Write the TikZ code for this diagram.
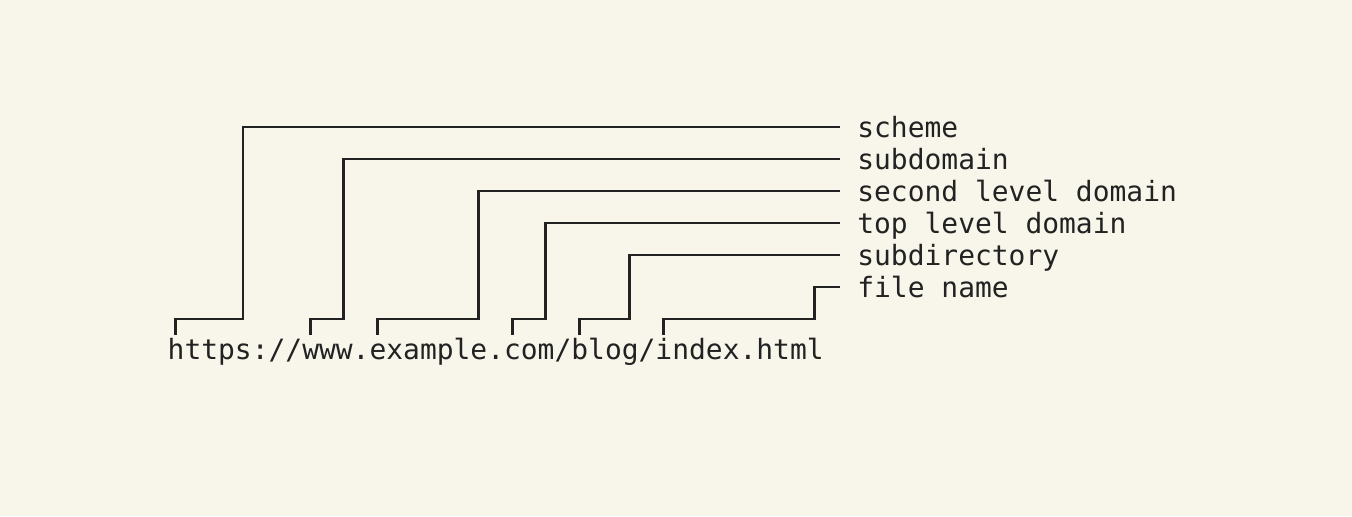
\documentclass[tikz,border=0pt]{standalone}
\usepackage{fontspec}
\setmonofont{DejaVu Sans Mono}
\definecolor{bg}{RGB}{248,246,234}
\definecolor{ink}{RGB}{34,34,34}
\begin{document}
\begin{tikzpicture}[
  conn/.style={draw=ink, line width=1.45pt, line join=miter},
  lab/.style={inner sep=0pt, anchor=west, text=ink, text height=12pt, text depth=1.5pt,
    font=\ttfamily\fontsize{13.97pt}{16pt}\selectfont},
  urltxt/.style={inner sep=0pt, anchor=base west, text=ink,
    font=\ttfamily\fontsize{13.97pt}{16pt}\selectfont}
]
\fill[bg] (0,0) rectangle (676pt,-258pt);
\useasboundingbox (0,0) rectangle (676pt,-258pt);
\begin{scope}[shift={(83.65pt,-63.5pt)}, x=8.41pt, y=-16pt]
  % labels
  \node[lab] (scheme) at (41,0) {scheme};
  \node[lab] (subdomain) at (41,1) {subdomain};
  \node[lab] (sld) at (41,2) {second level domain};
  \node[lab] (tld) at (41,3) {top level domain};
  \node[lab] (subdir) at (41,4) {subdirectory};
  \node[lab] (file) at (41,5) {file name};
  % url
  \node[urltxt] (url) at (0,7.25) {https://www.example.com/blog/index.html};
  % bracket coordinates
  \coordinate (a1) at (0.5,6.5);  \coordinate (b1) at (4.5,6);
  \coordinate (a2) at (8.5,6.5);  \coordinate (b2) at (10.5,6);
  \coordinate (a3) at (12.5,6.5); \coordinate (b3) at (18.5,6);
  \coordinate (a4) at (20.5,6.5); \coordinate (b4) at (22.5,6);
  \coordinate (a5) at (24.5,6.5); \coordinate (b5) at (27.5,6);
  \coordinate (a6) at (29.5,6.5); \coordinate (b6) at (38.5,6);
  % connectors
  \draw[conn] (a1) |- (b1) |- ([xshift=-8.41pt]scheme.west);
  \draw[conn] (a2) |- (b2) |- ([xshift=-8.41pt]subdomain.west);
  \draw[conn] (a3) |- (b3) |- ([xshift=-8.41pt]sld.west);
  \draw[conn] (a4) |- (b4) |- ([xshift=-8.41pt]tld.west);
  \draw[conn] (a5) |- (b5) |- ([xshift=-8.41pt]subdir.west);
  \draw[conn] (a6) |- (b6) |- ([xshift=-8.41pt]file.west);
\end{scope}
\end{tikzpicture}
\end{document}
